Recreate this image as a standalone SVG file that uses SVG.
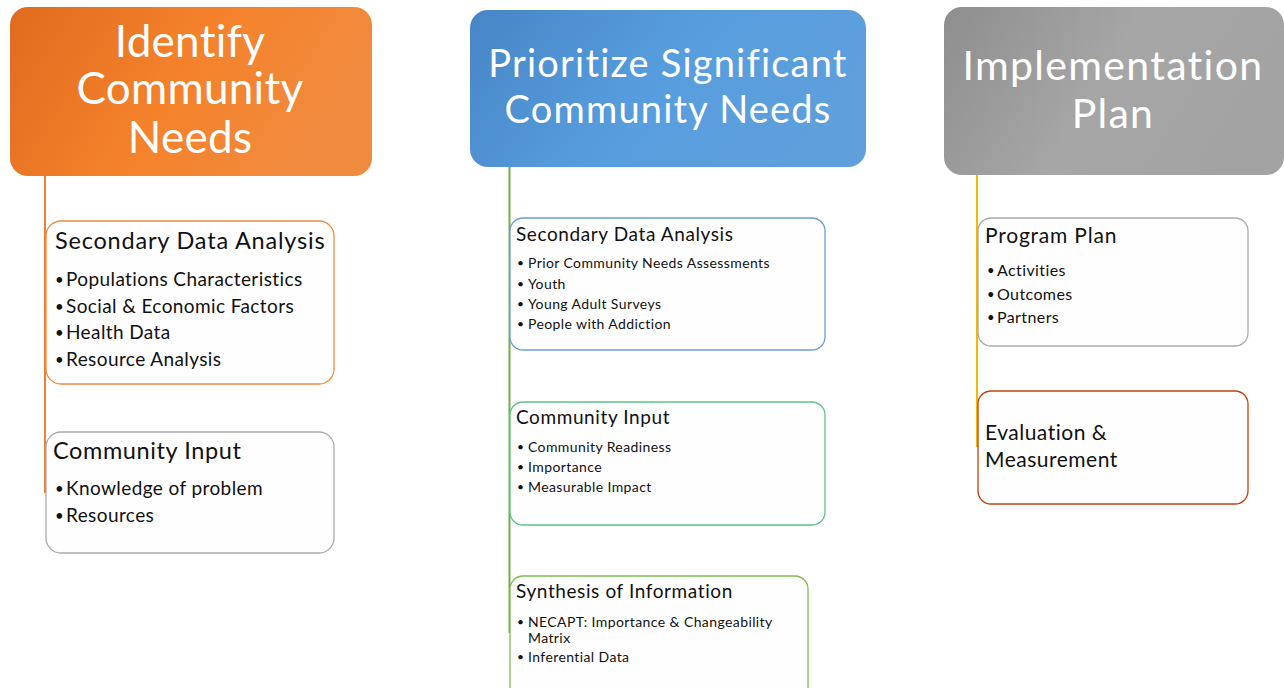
<svg xmlns="http://www.w3.org/2000/svg" width="1284" height="688" viewBox="0 0 1284 688">
<defs>
<linearGradient id="gOrange" x1="0" y1="0" x2="1" y2="0.3">
<stop offset="0" stop-color="#E06B1F"/><stop offset="0.55" stop-color="#F5822B"/><stop offset="1" stop-color="#F08A3E"/>
</linearGradient>
<linearGradient id="gBlue" x1="0" y1="0" x2="1" y2="0.3">
<stop offset="0" stop-color="#4785C6"/><stop offset="0.55" stop-color="#579DDE"/><stop offset="1" stop-color="#5E9FDC"/>
</linearGradient>
<linearGradient id="gGray" x1="0" y1="0" x2="1" y2="0.3">
<stop offset="0" stop-color="#8E8E8E"/><stop offset="0.55" stop-color="#A6A6A6"/><stop offset="1" stop-color="#A3A3A3"/>
</linearGradient>
<style>
.hdr{font-family:Lato,"Open Sans",sans-serif;fill:#fff;text-anchor:middle;font-weight:400}
.t{font-family:Lato,"Open Sans",sans-serif;fill:#111}
.s{letter-spacing:0.4px}
.box{fill:#FEFEFE;stroke-width:1.3}
.ln{stroke-width:2;fill:none}
</style>
</defs>
<rect width="1284" height="688" fill="#fff"/>
<g id="connectors">
<line class="ln" x1="45" y1="176" x2="45" y2="493" stroke="#EE7F33"/>
<line class="ln" x1="509.5" y1="167" x2="509.5" y2="633" stroke="#72AC48"/>
<line class="ln" x1="977" y1="175" x2="977" y2="447" stroke="#F5B800"/>
</g>
<g id="h1">
<rect x="10" y="7" width="362" height="169" rx="18" fill="url(#gOrange)"/>
<text class="hdr" font-size="44" letter-spacing="0.3"><tspan x="190" y="57">Identify</tspan><tspan x="190" y="104">Community</tspan><tspan x="190" y="153">Needs</tspan></text>
</g>
<g id="h2">
<rect x="470" y="10" width="396" height="157" rx="18" fill="url(#gBlue)"/>
<text class="hdr" font-size="38" letter-spacing="1.2"><tspan x="668" y="77">Prioritize Significant</tspan><tspan x="668" y="123">Community Needs</tspan></text>
</g>
<g id="h3">
<rect x="944" y="7" width="340" height="168" rx="18" fill="url(#gGray)"/>
<text class="hdr" font-size="41" letter-spacing="1.3"><tspan x="1113" y="80">Implementation</tspan><tspan x="1113" y="128">Plan</tspan></text>
</g>
<g id="c1a">
<rect class="box" x="46" y="221" width="288" height="163" rx="15" stroke="#F08A3C"/>
<text class="t" x="55" y="249" font-size="23.5" letter-spacing="0.8">Secondary Data Analysis</text>
<text class="t" font-size="15"><tspan x="55" y="285">•</tspan><tspan x="55" y="312">•</tspan><tspan x="55" y="338">•</tspan><tspan x="55" y="365">•</tspan></text>
<text class="t s" font-size="19"><tspan x="66" y="286">Populations Characteristics</tspan><tspan x="66" y="313">Social &amp; Economic Factors</tspan><tspan x="66" y="339">Health Data</tspan><tspan x="66" y="366">Resource Analysis</tspan></text>
</g>
<g id="c1b">
<rect class="box" x="46" y="432" width="288" height="121" rx="15" stroke="#ABABAB"/>
<text class="t" x="53" y="459" font-size="23.5" letter-spacing="0.6">Community Input</text>
<text class="t" font-size="15"><tspan x="55" y="494">•</tspan><tspan x="55" y="521">•</tspan></text>
<text class="t s" font-size="19"><tspan x="66" y="495">Knowledge of problem</tspan><tspan x="66" y="522">Resources</tspan></text>
</g>
<g id="c2a">
<rect class="box" x="510" y="218" width="315" height="132" rx="13" stroke="#6A9FD8"/>
<text class="t" x="516" y="241" font-size="19" letter-spacing="0.6">Secondary Data Analysis</text>
<text class="t" font-size="12"><tspan x="517" y="267">•</tspan><tspan x="517" y="288">•</tspan><tspan x="517" y="308">•</tspan><tspan x="517" y="328">•</tspan></text>
<text class="t s" font-size="14"><tspan x="528" y="268">Prior Community Needs Assessments</tspan><tspan x="528" y="289">Youth</tspan><tspan x="528" y="309">Young Adult Surveys</tspan><tspan x="528" y="329">People with Addiction</tspan></text>
</g>
<g id="c2b">
<rect class="box" x="510" y="402" width="315" height="123" rx="13" stroke="#5CC487"/>
<text class="t" x="516" y="424" font-size="19" letter-spacing="0.6">Community Input</text>
<text class="t" font-size="12"><tspan x="517" y="451">•</tspan><tspan x="517" y="471">•</tspan><tspan x="517" y="491">•</tspan></text>
<text class="t s" font-size="14"><tspan x="528" y="452">Community Readiness</tspan><tspan x="528" y="472">Importance</tspan><tspan x="528" y="492">Measurable Impact</tspan></text>
</g>
<g id="c2c">
<rect class="box" x="510" y="576" width="298" height="125" rx="13" stroke="#7DBD4F"/>
<text class="t" x="516" y="598" font-size="19" letter-spacing="0.6">Synthesis of Information</text>
<text class="t" font-size="12"><tspan x="517" y="626">•</tspan><tspan x="517" y="661">•</tspan></text>
<text class="t s" font-size="14"><tspan x="528" y="627">NECAPT: Importance &amp; Changeability</tspan><tspan x="528" y="643">Matrix</tspan><tspan x="528" y="662">Inferential Data</tspan></text>
</g>
<g id="c3a">
<rect class="box" x="978" y="218" width="270" height="128" rx="13" stroke="#ABABAB"/>
<text class="t" x="985" y="243" font-size="21" letter-spacing="0.8">Program Plan</text>
<text class="t" font-size="13"><tspan x="987" y="275">•</tspan><tspan x="987" y="299">•</tspan><tspan x="987" y="322">•</tspan></text>
<text class="t s" font-size="16"><tspan x="997" y="276">Activities</tspan><tspan x="997" y="300">Outcomes</tspan><tspan x="997" y="323">Partners</tspan></text>
</g>
<g id="c3b">
<rect class="box" x="978" y="391" width="270" height="113" rx="13" stroke="#C0440F"/>
<text class="t" font-size="21" letter-spacing="0.5"><tspan x="985" y="440">Evaluation &amp;</tspan><tspan x="985" y="467">Measurement</tspan></text>
</g>
</svg>
